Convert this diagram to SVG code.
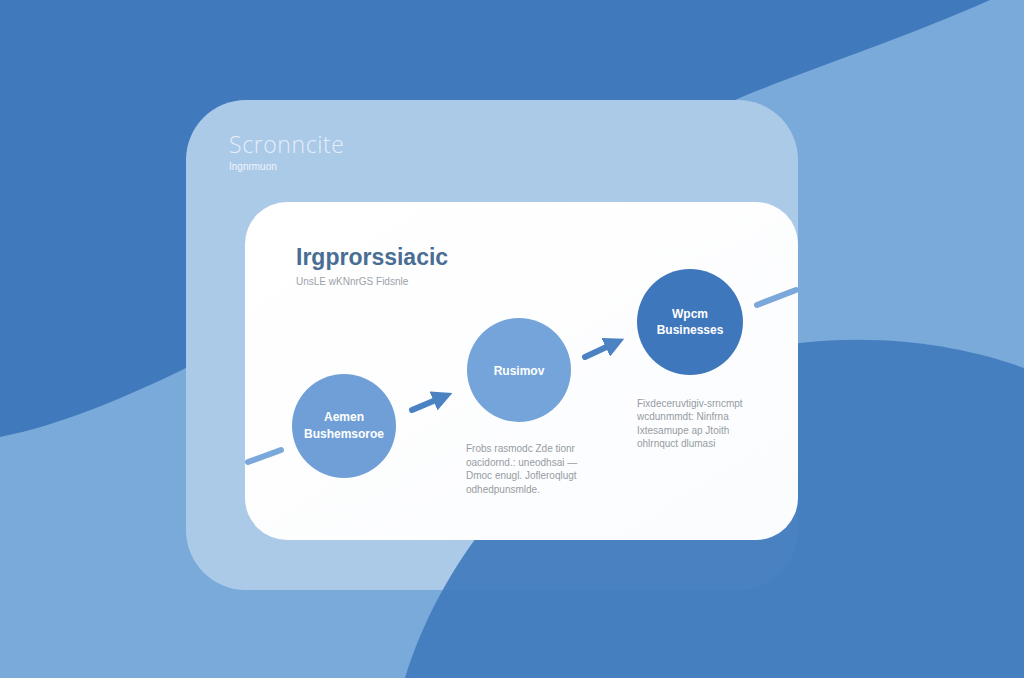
<svg xmlns="http://www.w3.org/2000/svg" width="1024" height="678" viewBox="0 0 1024 678">
  <style>
    .t { font-family: "Liberation Sans", Arial, sans-serif; }
    .node-label { font-family: "Liberation Sans", Arial, sans-serif; font-size: 12px; fill: #ffffff; text-anchor: middle; font-weight: bold; }
    .desc { font-family: "Liberation Sans", Arial, sans-serif; font-size: 10px; fill: #969ca2; }
    .arrow { stroke: #4a82c2; stroke-width: 6; stroke-linecap: round; fill: none; }
    .tail { stroke: #7ba8db; stroke-width: 6; stroke-linecap: round; fill: none; }
  </style>
  <defs>
    <marker id="head" viewBox="0 0 10 10" refX="5" refY="5" markerWidth="3.4" markerHeight="3.4" orient="auto" markerUnits="strokeWidth">
      <path d="M0,0 L10,5 L0,10 Z" fill="#4a82c2"/>
    </marker>
    <linearGradient id="card" x1="0" y1="0" x2="1" y2="1">
      <stop offset="0" stop-color="#ffffff"/>
      <stop offset="1" stop-color="#fbfcfe"/>
    </linearGradient>
  </defs>

  <!-- background -->
  <rect x="0" y="0" width="1024" height="678" fill="#417abc"/>
  <path d="M990,0 C900,40 800,72 735,100 L186,368 C120,400 60,425 0,437 L0,678 L1024,678 L1024,0 Z" fill="#7aaad9"/>

  <!-- outer panel -->
  <g id="panel">
    <rect x="186" y="100" width="612" height="490" rx="60" fill="#abcae8"/>
  </g>
  <path d="M405,678 C440,560 560,380 800,343 C900,332 980,352 1024,368 L1024,678 Z" fill="#427cbd" opacity="0.93"/>

  <g id="header">
    <text class="t" x="229" y="153" font-size="23" font-weight="300" fill="#e4eef9" letter-spacing="0.6" style="font-family: 'Open Sans', 'Liberation Sans', sans-serif;">Scronncite</text>
    <text class="t" x="229" y="170" font-size="10" fill="#eef4fb">Ingnrmuon</text>
  </g>

  <!-- white card -->
  <g id="card-main">
    <rect x="245" y="202" width="553" height="338" rx="42" fill="url(#card)"/>
    <text class="t" x="296" y="265" font-size="23" font-weight="bold" fill="#4a6d94">Irgprorssiacic</text>
    <text class="t" x="296" y="285" font-size="10" fill="#9ca2a8">UnsLE wKNnrGS Fidsnle</text>
  </g>

  <!-- connectors -->
  <g id="connectors">
    <line class="tail" x1="248" y1="462" x2="281" y2="450"/>
    <line class="arrow" x1="412" y1="410" x2="443" y2="397" marker-end="url(#head)"/>
    <line class="arrow" x1="585" y1="357" x2="615" y2="343" marker-end="url(#head)"/>
    <line class="tail" x1="757" y1="305" x2="796" y2="290"/>
  </g>

  <g id="node1">
    <circle cx="344" cy="426" r="52" fill="#6f9fd6"/>
    <text class="node-label" x="344" y="421">Aemen</text>
    <text class="node-label" x="344" y="438">Bushemsoroe</text>
  </g>

  <g id="node2">
    <circle cx="519" cy="370" r="52" fill="#74a4d9"/>
    <text class="node-label" x="519" y="375">Rusimov</text>
    <text class="desc" x="466" y="452">Frobs rasmodc Zde tionr</text>
    <text class="desc" x="466" y="466">oacidornd.: uneodhsai —</text>
    <text class="desc" x="466" y="479">Dmoc enugl. Jofleroqlugt</text>
    <text class="desc" x="466" y="493">odhedpunsmlde.</text>
  </g>

  <g id="node3">
    <circle cx="690" cy="322" r="53" fill="#3f77bc"/>
    <text class="node-label" x="690" y="318">Wpcm</text>
    <text class="node-label" x="690" y="334">Businesses</text>
    <text class="desc" x="637" y="407">Fixdeceruvtigiv-srncmpt</text>
    <text class="desc" x="637" y="420">wcdunmmdt: Ninfrna</text>
    <text class="desc" x="637" y="434">Ixtesamupe ap Jtoith</text>
    <text class="desc" x="637" y="447">ohlrnquct dlumasi</text>
  </g>
</svg>
